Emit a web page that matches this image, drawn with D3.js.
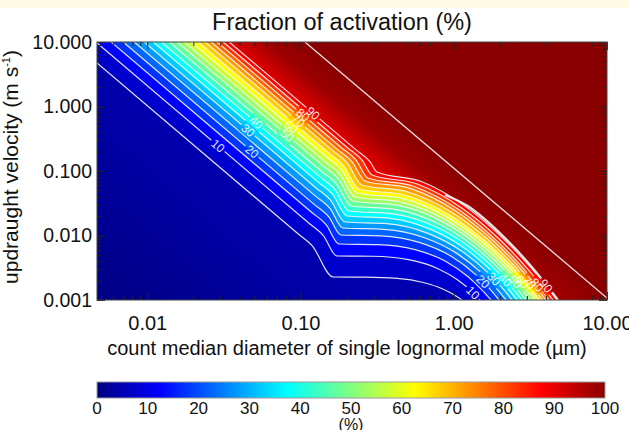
<!DOCTYPE html>
<html><head><meta charset="utf-8">
<script src="https://cdn.jsdelivr.net/npm/d3@7/dist/d3.min.js"></script>
<style>
html,body{margin:0;padding:0;background:#fff;}
svg text{font-family:"Liberation Sans",Arial,Helvetica,sans-serif;}
</style></head><body>
<svg id="chart" width="629" height="430"></svg>
<script>
// ---------------- data ----------------
// contour levels of activated fraction (%)
const levels = [5,10,15,20,25,30,35,40,45,50,55,60,65,70,75,80,85,90];
const labelledLevels = [10,20,30,40,50,60,70,80,90];
// each contour: points [log10 diameter (µm), log10 updraught velocity (m s-1)]
const c05 = [[-2.328,0.674],[-1.020,-1.966],[-0.922,-2.164],[-0.788,-2.643],[-0.577,-2.645],[-0.367,-2.665],[-0.199,-2.729],[-0.072,-2.829],[0.012,-2.933],[0.054,-3.000]];
const c10 = [[-2.328,0.985],[-0.950,-1.799],[-0.852,-1.997],[-0.762,-2.318],[-0.529,-2.322],[-0.295,-2.374],[-0.109,-2.507],[0.031,-2.698],[0.125,-2.885],[0.171,-3.000]];
const c15 = [[-2.236,1.000],[-0.930,-1.636],[-0.832,-1.834],[-0.749,-2.132],[-0.501,-2.141],[-0.253,-2.220],[-0.054,-2.398],[0.094,-2.640],[0.193,-2.865],[0.243,-3.000]];
const c20 = [[-2.157,1.000],[-0.913,-1.514],[-0.815,-1.712],[-0.736,-1.992],[-0.478,-2.006],[-0.220,-2.110],[-0.014,-2.326],[0.141,-2.602],[0.244,-2.851],[0.295,-3.000]];
const c25 = [[-2.085,1.000],[-0.906,-1.382],[-0.808,-1.580],[-0.723,-1.884],[-0.457,-1.904],[-0.191,-2.034],[0.022,-2.281],[0.181,-2.580],[0.288,-2.847],[0.341,-3.000]];
const c30 = [[-2.020,1.000],[-0.901,-1.259],[-0.803,-1.457],[-0.710,-1.791],[-0.437,-1.817],[-0.165,-1.971],[0.053,-2.245],[0.217,-2.564],[0.326,-2.840],[0.380,-3.000]];
const c35 = [[-1.961,1.000],[-0.887,-1.169],[-0.789,-1.367],[-0.697,-1.698],[-0.419,-1.733],[-0.142,-1.913],[0.080,-2.214],[0.246,-2.550],[0.357,-2.837],[0.413,-3.000]];
const c40 = [[-1.909,1.000],[-0.875,-1.087],[-0.777,-1.285],[-0.684,-1.620],[-0.401,-1.664],[-0.119,-1.864],[0.107,-2.186],[0.276,-2.540],[0.389,-2.834],[0.445,-3.000]];
const c45 = [[-1.857,1.000],[-0.863,-1.007],[-0.765,-1.205],[-0.670,-1.543],[-0.385,-1.595],[-0.100,-1.819],[0.129,-2.163],[0.300,-2.529],[0.414,-2.831],[0.471,-3.000]];
const c50 = [[-1.805,1.000],[-0.851,-0.924],[-0.753,-1.122],[-0.657,-1.465],[-0.369,-1.529],[-0.080,-1.777],[0.151,-2.141],[0.324,-2.521],[0.440,-2.829],[0.498,-3.000]];
const c55 = [[-1.759,1.000],[-0.841,-0.855],[-0.743,-1.053],[-0.644,-1.403],[-0.352,-1.479],[-0.060,-1.750],[0.173,-2.132],[0.348,-2.519],[0.465,-2.829],[0.524,-3.000]];
const c60 = [[-1.713,1.000],[-0.830,-0.783],[-0.732,-0.981],[-0.631,-1.341],[-0.338,-1.425],[-0.044,-1.715],[0.191,-2.112],[0.367,-2.510],[0.484,-2.828],[0.543,-3.000]];
const c65 = [[-1.667,1.000],[-0.819,-0.714],[-0.721,-0.912],[-0.618,-1.279],[-0.323,-1.372],[-0.028,-1.681],[0.208,-2.093],[0.386,-2.502],[0.504,-2.825],[0.563,-3.000]];
const c70 = [[-1.622,1.000],[-0.794,-0.672],[-0.696,-0.870],[-0.599,-1.217],[-0.303,-1.321],[-0.008,-1.648],[0.228,-2.074],[0.405,-2.496],[0.523,-2.822],[0.582,-3.000]];
const c75 = [[-1.583,1.000],[-0.761,-0.661],[-0.663,-0.859],[-0.579,-1.155],[-0.284,-1.270],[0.011,-1.616],[0.248,-2.059],[0.425,-2.488],[0.543,-2.820],[0.602,-3.000]];
const c80 = [[-1.544,1.000],[-0.736,-0.631],[-0.638,-0.829],[-0.560,-1.109],[-0.264,-1.236],[0.031,-1.598],[0.267,-2.053],[0.444,-2.485],[0.562,-2.820],[0.622,-3.000]];
const c85 = [[-1.504,1.000],[-0.697,-0.631],[-0.599,-0.829],[-0.533,-1.062],[-0.238,-1.202],[0.057,-1.581],[0.293,-2.047],[0.470,-2.485],[0.589,-2.820],[0.648,-3.000]];
const c90 = [[-1.465,1.000],[-0.643,-0.661],[-0.545,-0.859],[-0.501,-1.016],[-0.207,-1.167],[0.086,-1.566],[0.321,-2.042],[0.498,-2.484],[0.615,-2.820],[0.674,-3.000]];
// 100 % contour: long diagonal and the edge along the curved bundle
const c100Diag = [[-0.971,1.000],[1.000,-2.969]];
const c100Edge = [[-0.057,-1.372],[0.086,-1.535],[0.321,-2.008],[0.498,-2.457],[0.615,-2.798],[0.680,-3.000]];
const contours = [c05,c10,c15,c20,c25,c30,c35,c40,c45,c50,c55,c60,c65,c70,c75,c80,c85,c90];

// where the contour labels sit (log10 diameter), two groups
const labelAtUpper = [-1.538,-1.316,-1.342,-1.290,-1.088,-1.062,-1.016,-0.984,-0.918];
const labelAtLower = [0.126,0.190,0.262,0.335,0.400,0.445,0.491,0.543,0.602];

// axes
const xTicks = [0.01,0.1,1,10];
const xTickLabels = ["0.01","0.10","1.00","10.00"];
const yTicks = [0.001,0.01,0.1,1,10];
const yTickLabels = ["0.001","0.010","0.100","1.000","10.000"];
const cbTicks = [0,10,20,30,40,50,60,70,80,90,100];

// ---------------- drawing ----------------
const svg = d3.select("#chart");
const X0 = 97, X1 = 607, Y0 = 42, Y1 = 300;
const x = d3.scaleLog().domain([0.0047, 10]).range([X0, X1]);
const y = d3.scaleLog().domain([0.001, 10]).range([Y1, Y0]);
const jet = d3.scaleLinear()
  .domain([0, 12.5, 37.5, 62.5, 87.5, 100])
  .range(["#000080", "#0000ff", "#00ffff", "#ffff00", "#ff0000", "#8a0000"]);

svg.append("rect").attr("width", 629).attr("height", 8).attr("fill", "#fdfbe4");

const defs = svg.append("defs");
defs.append("clipPath").attr("id", "plotClip").append("rect")
  .attr("x", X0).attr("y", Y0).attr("width", X1 - X0).attr("height", Y1 - Y0);

const P = p => [x(Math.pow(10, p[0])), y(Math.pow(10, p[1]))];
const line = d3.line().x(p => P(p)[0]).y(p => P(p)[1]).curve(d3.curveMonotoneX);

function polygon(pts) {
  const s = P(pts[0]);
  let d = line(pts) + `L${X1},${Y1}L${X1},${Y0}`;
  if (s[1] > Y0 + 0.5) d += `L${X0},${Y0}`;
  return d + "Z";
}
function linGrad(id, a, b, stops) {
  const g = defs.append("linearGradient").attr("id", id).attr("gradientUnits", "userSpaceOnUse")
    .attr("x1", a[0]).attr("y1", a[1]).attr("x2", b[0]).attr("y2", b[1]);
  stops.forEach(([o, c]) => g.append("stop").attr("offset", o).attr("stop-color", c));
}
// low gradient (below 5 %)
{
  const A = P(c05[0]), B = P(c05[1]);
  const len = Math.hypot(B[0] - A[0], B[1] - A[1]);
  const u = [(B[0] - A[0]) / len, (B[1] - A[1]) / len];
  const n = [-u[1], u[0]];
  const dist = (X0 - A[0]) * n[0] + (Y1 - A[1]) * n[1];
  linGrad("gLow", A, [A[0] + n[0] * dist, A[1] + n[1] * dist],
    [[0, jet(4.5)], [1, jet(0.5)]]);
}
// high gradient (90 -> 100 %)
{
  const A = P(c90[0]), B = P(c90[1]);
  const len = Math.hypot(B[0] - A[0], B[1] - A[1]);
  const u = [(B[0] - A[0]) / len, (B[1] - A[1]) / len];
  const n = [u[1], -u[0]];
  const Q = P(c100Diag[0]);
  const dist = (Q[0] - A[0]) * n[0] + (Q[1] - A[1]) * n[1];
  linGrad("gHigh", A, [A[0] + n[0] * dist, A[1] + n[1] * dist],
    [[0, jet(91)], [0.5, jet(98)], [1, jet(100)]]);
}

const plot = svg.append("g").attr("clip-path", "url(#plotClip)");
plot.append("rect").attr("x", X0).attr("y", Y0).attr("width", X1 - X0).attr("height", Y1 - Y0)
  .attr("fill", "url(#gLow)");
contours.forEach((pts, i) => {
  const L = levels[i];
  plot.append("path").attr("d", polygon(pts))
    .attr("fill", L === 90 ? "url(#gHigh)" : jet(L + 2.5));
});
plot.append("path").attr("d", polygon(c100Diag)).attr("fill", jet(100));

// label mask
const mask = defs.append("mask").attr("id", "lblMask").attr("maskUnits", "userSpaceOnUse")
  .attr("x", 0).attr("y", 0).attr("width", 629).attr("height", 430);
mask.append("rect").attr("width", 629).attr("height", 430).attr("fill", "#fff");

const lineG = plot.append("g").attr("mask", "url(#lblMask)")
  .attr("fill", "none").attr("stroke", "#f4f4f4").attr("stroke-width", 1.2).attr("stroke-opacity", 0.92);
const linePaths = contours.map(pts => lineG.append("path").attr("d", line(pts)).node());
lineG.append("path").attr("d", line(c100Diag)).attr("stroke-width", 1.3);
lineG.append("path").attr("d", line(c100Edge)).attr("stroke-width", 2.2);

function pointAtX(node, X) {
  let lo = 0, hi = node.getTotalLength();
  for (let k = 0; k < 40; k++) {
    const mid = (lo + hi) / 2;
    if (node.getPointAtLength(mid).x < X) lo = mid; else hi = mid;
  }
  const L = (lo + hi) / 2;
  const p = node.getPointAtLength(L);
  const a = node.getPointAtLength(Math.max(0, L - 3)), b = node.getPointAtLength(L + 3);
  return { x: p.x, y: p.y, ang: Math.atan2(b.y - a.y, b.x - a.x) * 180 / Math.PI };
}
const lblG = plot.append("g");
labelledLevels.forEach((L, j) => {
  const node = linePaths[levels.indexOf(L)];
  [labelAtUpper[j], labelAtLower[j]].forEach(ld => {
    const q = pointAtX(node, x(Math.pow(10, ld)));
    const tr = `translate(${q.x},${q.y}) rotate(${q.ang})`;
    const t = lblG.append("text").attr("transform", tr)
      .attr("text-anchor", "middle").attr("dy", "0.35em")
      .attr("font-size", 12).attr("fill", "#fff").attr("fill-opacity", 0.92).text(L);
    const w = t.node().getComputedTextLength();
    mask.append("rect").attr("transform", tr).attr("x", -w / 2 - 2).attr("y", -6)
      .attr("width", w + 4).attr("height", 12).attr("fill", "#000");
  });
});

// axes
const minorX = x.ticks().filter(v => !xTicks.some(t => Math.abs(t - v) < 1e-9));
const minorY = y.ticks().filter(v => !yTicks.some(t => Math.abs(t - v) < 1e-9));
const tickCol = "#222";
function styleAxis(size) {
  return g => {
    g.select(".domain").remove();
    g.selectAll(".tick line").attr("stroke", tickCol);
    g.selectAll("text").attr("font-size", size).attr("fill", "#111")
      .attr("font-family", '"Liberation Sans",Arial,sans-serif');
  };
}
svg.append("g").attr("transform", `translate(0,${Y1})`)
  .call(d3.axisBottom(x).tickValues(xTicks).tickSize(-8).tickPadding(16)
    .tickFormat((d, i) => xTickLabels[i])).call(styleAxis(20));
svg.append("g").attr("transform", `translate(0,${Y1})`)
  .call(d3.axisBottom(x).tickValues(minorX).tickSize(-4).tickFormat("")).call(styleAxis(20));
svg.append("g").attr("transform", `translate(0,${Y0})`)
  .call(d3.axisTop(x).tickValues(xTicks).tickSize(-8).tickFormat("")).call(styleAxis(20));
svg.append("g").attr("transform", `translate(0,${Y0})`)
  .call(d3.axisTop(x).tickValues(minorX).tickSize(-4).tickFormat("")).call(styleAxis(20));
svg.append("g").attr("transform", `translate(${X0},0)`)
  .call(d3.axisLeft(y).tickValues(yTicks).tickSize(-8).tickPadding(5)
    .tickFormat((d, i) => yTickLabels[i])).call(styleAxis(19.5));
svg.append("g").attr("transform", `translate(${X0},0)`)
  .call(d3.axisLeft(y).tickValues(minorY).tickSize(-4).tickFormat("")).call(styleAxis(19.5));
svg.append("g").attr("transform", `translate(${X1},0)`)
  .call(d3.axisRight(y).tickValues(yTicks).tickSize(-8).tickFormat("")).call(styleAxis(19.5));
svg.append("g").attr("transform", `translate(${X1},0)`)
  .call(d3.axisRight(y).tickValues(minorY).tickSize(-4).tickFormat("")).call(styleAxis(19.5));

svg.append("rect").attr("x", X0).attr("y", Y0).attr("width", X1 - X0).attr("height", Y1 - Y0)
  .attr("fill", "none").attr("stroke", "#444").attr("stroke-width", 1);

// titles
svg.append("text").attr("x", 342).attr("y", 30).attr("text-anchor", "middle")
  .attr("font-size", 23.5).attr("fill", "#111").text("Fraction of activation (%)");
svg.append("text").attr("x", 347).attr("y", 355).attr("text-anchor", "middle")
  .attr("font-size", 20).attr("fill", "#111").text("count median diameter of single lognormal mode (µm)");
const yl = svg.append("text").attr("transform", "translate(18,167) rotate(-90)")
  .attr("text-anchor", "middle").attr("font-size", 21).attr("fill", "#111");
yl.append("tspan").text("updraught velocity (m s");
yl.append("tspan").attr("dy", -8).attr("font-size", 11).text("-1");
yl.append("tspan").attr("dy", 8).text(")");

// colour bar
const cb = d3.scaleLinear().domain([0, 100]).range([97, 605]);
const cbg = defs.append("linearGradient").attr("id", "cbGrad");
d3.range(0, 101, 2.5).forEach(v => cbg.append("stop").attr("offset", v / 100).attr("stop-color", jet(v)));
svg.append("rect").attr("x", cb(0)).attr("y", 382).attr("width", cb(100) - cb(0)).attr("height", 16)
  .attr("fill", "url(#cbGrad)").attr("stroke", "#999").attr("stroke-width", 1);
svg.append("g").selectAll("text").data(cbTicks).join("text")
  .attr("x", d => cb(d)).attr("y", 414).attr("text-anchor", "middle")
  .attr("font-size", 17).attr("fill", "#111").text(d => d);
svg.append("text").attr("x", cb(50)).attr("y", 430).attr("text-anchor", "middle")
  .attr("font-size", 16).attr("fill", "#111").text("(%)");
</script>
</body></html>
